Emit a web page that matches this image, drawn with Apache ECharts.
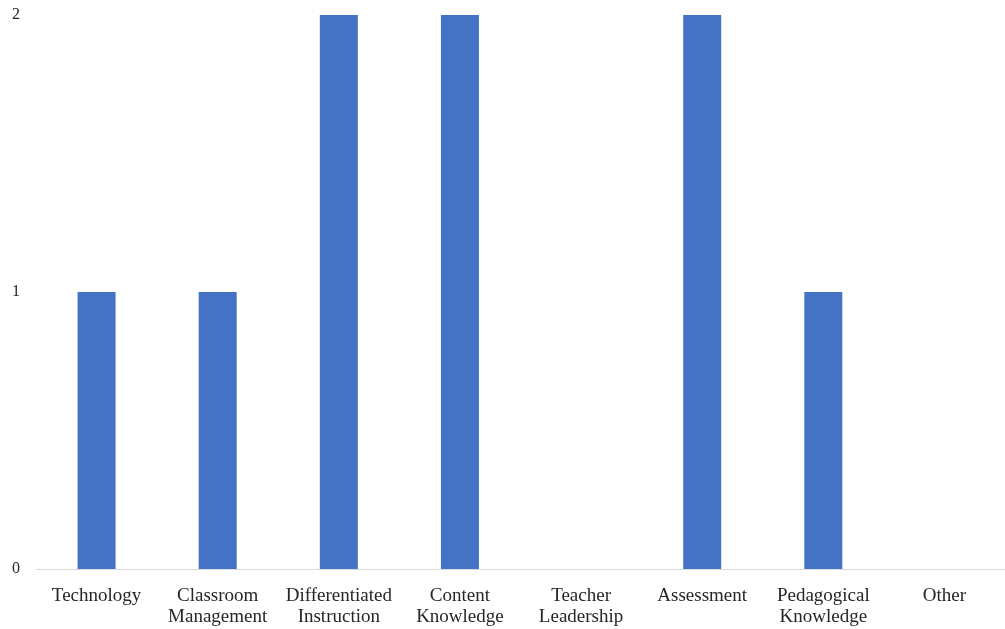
<!DOCTYPE html>
<html><head><meta charset="utf-8">
<script src="https://cdn.jsdelivr.net/npm/echarts@6/dist/echarts.min.js"></script>
<style>html,body{margin:0;padding:0;background:#fff}#c{width:1005px;height:629px}</style>
</head><body><div id="c"></div>
<script>
const categories = ["Technology","Classroom\nManagement","Differentiated\nInstruction","Content\nKnowledge","Teacher\nLeadership","Assessment","Pedagogical\nKnowledge","Other"];
const values = [1,1,2,2,0,2,1,0];
const chart = echarts.init(document.getElementById('c'));
chart.setOption({
  animation:false,
  grid:{left:36,right:0,top:15,bottom:60,containLabel:false},
  xAxis:{type:'category',data:categories,
    axisLine:{lineStyle:{color:'#d9d9d9',width:1}},
    axisTick:{show:false},
    axisLabel:{interval:0,color:'#262626',fontFamily:'Liberation Serif',fontSize:19,lineHeight:21,margin:17}},
  yAxis:{type:'value',min:0,max:2,interval:1,
    axisLine:{show:false},axisTick:{show:false},splitLine:{show:false},
    axisLabel:{color:'#262626',fontFamily:'Liberation Serif',fontSize:16,margin:16}},
  series:[{type:'bar',data:values,barWidth:38,itemStyle:{color:'#4472C4'}}]
});
</script></body></html>
